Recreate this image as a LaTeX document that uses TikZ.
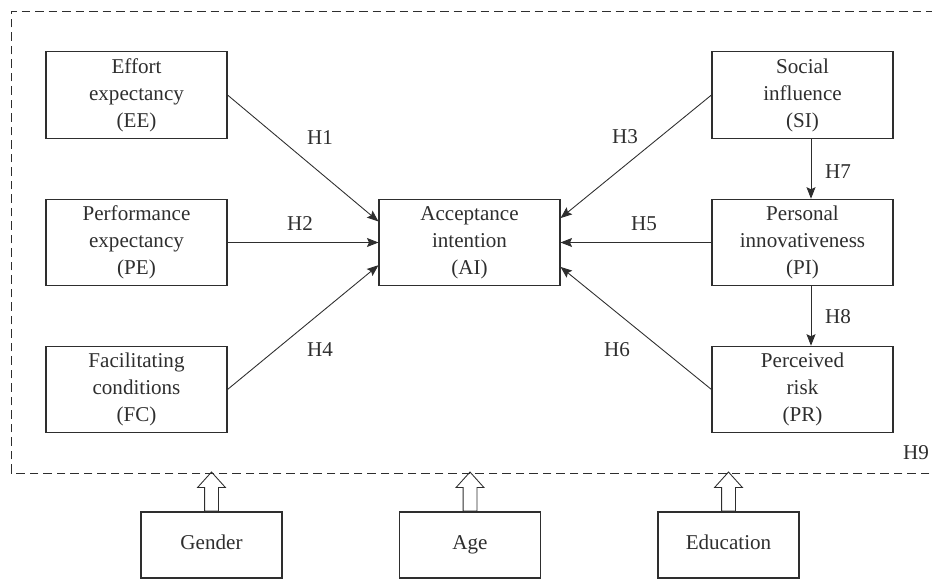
\documentclass[tikz,border=0pt]{standalone}
\usepackage{fontspec}
\setmainfont{Liberation Serif}
\usepackage{tikz}
\usetikzlibrary{arrows.meta,positioning,shapes.arrows}
\usepackage{xcolor}
\definecolor{inkgray}{HTML}{2E2E2E}

\tikzset{
    construct/.style={draw=inkgray, rectangle, line width=0.6pt, text=inkgray, align=center, minimum width=3.62cm, minimum height=1.73cm, font=\fontsize{12}{15.4}\selectfont},
    moderator/.style={draw=inkgray, rectangle, line width=0.6pt, text=inkgray, text height=1.6ex, text depth=0.4ex, minimum width=2.82cm, minimum height=1.32cm, font=\fontsize{12}{15.4}\selectfont},
    hyp/.style={text=inkgray, inner sep=1pt, font=\fontsize{12}{15.4}\selectfont},
    path/.style={draw=inkgray, line width=0.5pt, -{Stealth[length=2.3mm, width=1.8mm, inset=0.4mm]}},
    modarrow/.style={single arrow, draw=inkgray, line width=0.5pt, shape border rotate=90, inner sep=0.13cm, single arrow head extend=0.14cm, single arrow tip angle=84, minimum height=0.78cm, anchor=tail}
}

\begin{document}
\begin{tikzpicture}
    \path[use as bounding box, clip] (0,0) rectangle (18.64,11.6);

    % research frame
    \draw[draw=inkgray, line width=0.5pt, dash pattern=on 0.17cm off 0.1cm] (0.22,2.14) rectangle (19.2,11.38);

    \node[construct] (ee) at (2.73,9.7) {Effort\\expectancy\\(EE)};
    \node[construct] (pe) at (2.73,6.75) {Performance\\expectancy\\(PE)};
    \node[construct] (fc) at (2.73,3.81) {Facilitating\\conditions\\(FC)};

    \node[construct] (ai) at (9.39,6.75) {Acceptance\\intention\\(AI)};

    \node[construct] (si) at (16.05,9.7) {Social\\influence\\(SI)};
    \node[construct] (pi) at (16.05,6.75) {Personal\\innovativeness\\(PI)};
    \node[construct] (pr) at (16.05,3.81) {Perceived\\risk\\(PR)};

    \node[moderator] (gender) at (4.23,0.7) {Gender};
    \node[moderator] (age) at (9.4,0.7) {Age};
    \node[moderator] (edu) at (14.57,0.7) {Education};

    \draw[path] (ee.east) -- (ai.167);
    \draw[path] (pe.east) -- (ai.west);
    \draw[path] (fc.east) -- (ai.194);
    \draw[path] (si.west) -- (ai.15);
    \draw[path] (pi.west) -- (ai.east);
    \draw[path] (pr.west) -- (ai.-15);
    \draw[path] ([xshift=0.17cm]si.south) -- ([xshift=0.17cm]pi.north);
    \draw[path] ([xshift=0.17cm]pi.south) -- ([xshift=0.17cm]pr.north);

    \node[modarrow] (garrow) at (gender.north) {};
    \node[modarrow] (aarrow) at (age.north) {};
    \node[modarrow] (earrow) at (edu.north) {};

    \node[hyp] (h1) at (6.4,8.84) {H1};
    \node[hyp] (h2) at (6.0,7.12) {H2};
    \node[hyp] (h3) at (12.5,8.86) {H3};
    \node[hyp] (h4) at (6.4,4.6) {H4};
    \node[hyp] (h5) at (12.88,7.12) {H5};
    \node[hyp] (h6) at (12.34,4.6) {H6};
    \node[hyp] (h7) at (16.76,8.16) {H7};
    \node[hyp] (h8) at (16.76,5.26) {H8};
    \node[hyp] (h9) at (18.32,2.54) {H9};
\end{tikzpicture}
\end{document}
